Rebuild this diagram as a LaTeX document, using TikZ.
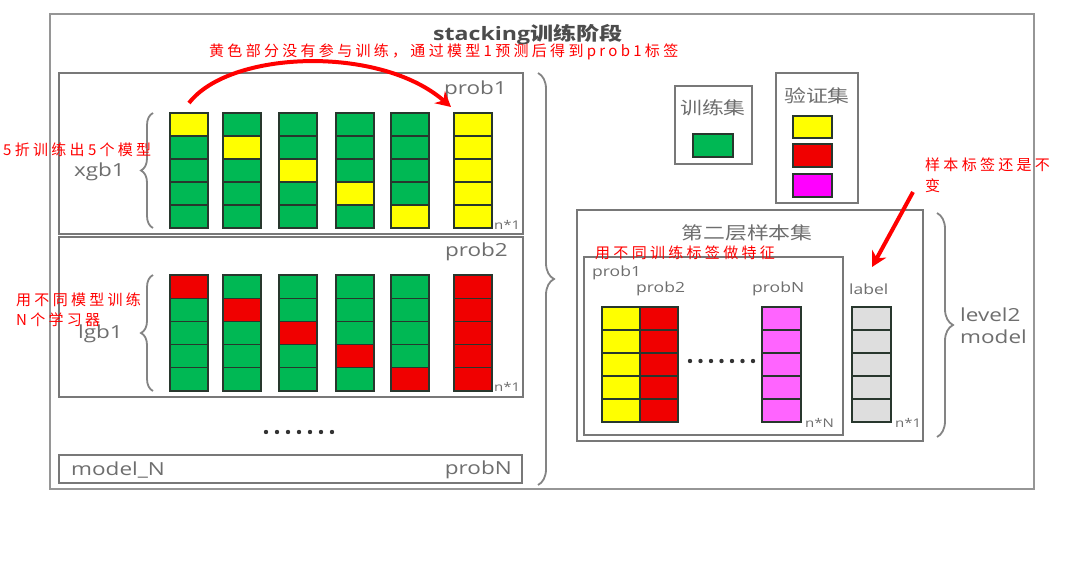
\documentclass[tikz,border=0pt]{standalone}
\usepackage{fontspec}
\setmainfont{Open Sans}
\newfontfamily\lat[FakeStretch=1.25]{Open Sans}
\newfontfamily\cjk[FakeStretch=1.25]{Noto Sans CJK SC}
\newfontfamily\redf[LetterSpace=22]{Noto Sans CJK SC}
\usetikzlibrary{arrows.meta,decorations.pathreplacing}
\definecolor{grn}{RGB}{0,184,84}
\definecolor{yel}{RGB}{255,255,0}
\definecolor{rd}{RGB}{240,0,0}
\definecolor{mag}{RGB}{255,0,255}
\definecolor{pnk}{RGB}{255,100,255}
\definecolor{lgr}{RGB}{222,222,222}
\definecolor{txtg}{RGB}{110,110,110}
\definecolor{framec}{RGB}{150,150,150}
\definecolor{panelc}{RGB}{120,120,120}
\definecolor{cellb}{RGB}{40,55,45}
\begin{document}
\begin{tikzpicture}[x=1pt,y=-1pt,
  outerf/.style={draw=framec, line width=1.5},
  panel/.style={draw=panelc, line width=2.5},
  boxg/.style={draw=panelc, line width=2},
  cell/.style={draw=cellb, line width=1.2},
  lbl/.style={text=txtg, inner sep=0, font=\lat\fontsize{18}{22}\selectfont},
  slbl/.style={text=txtg, inner sep=0, font=\lat\fontsize{14}{16}\selectfont},
  tiny/.style={text=txtg, inner sep=0, font=\lat\fontsize{12}{14}\selectfont},
  clbl/.style={text=txtg, inner sep=0, font=\cjk\fontsize{17.5}{20}\selectfont},
  redtxt/.style={text=red, inner sep=0, font=\redf\fontsize{15}{18}\selectfont},
  brc/.style={draw=txtg!85, line width=1.8, decorate, decoration={brace, amplitude=#1}},
  brc/.default=12,
  redarrow/.style={draw=red, line width=4, -{Stealth[length=15pt,width=16pt]}},
  dot/.style={fill=black!80}
]
\useasboundingbox (0,0) rectangle (1074,562);
\fill[white] (0,0) rectangle (1074,562);
% outer frame and title
\draw[outerf] (50,14) rectangle (1034,489);
\node[text=black!70, inner sep=0, anchor=west, font=\lat\bfseries\fontsize{18.5}{22}\selectfont] (title) at (433,35) {stacking{\cjk\bfseries 训练阶段}};
% left panels
\draw[panel] (59,73) rectangle (523,234);
\draw[panel] (59,237) rectangle (523,397);
\draw[panel] (59,455) rectangle (522,483);
% panel 1 columns
\foreach \x [count=\k] in {170,223,279,336,391}{
  \foreach \r in {1,...,5}{
    \ifnum\r=\k \def\fc{yel}\else\def\fc{grn}\fi
    \draw[cell,fill=\fc] (\x,{113+(\r-1)*23}) rectangle ++(38,23);
  }
}
\foreach \r in {1,...,5} \draw[cell,fill=yel] (454,{113+(\r-1)*23}) rectangle ++(38,23);
% panel 2 columns
\foreach \x [count=\k] in {170,223,279,336,391}{
  \foreach \r in {1,...,5}{
    \ifnum\r=\k \def\fc{rd}\else\def\fc{grn}\fi
    \draw[cell,fill=\fc] (\x,{275+(\r-1)*23.2}) rectangle ++(38,23.2);
  }
}
\foreach \r in {1,...,5} \draw[cell,fill=rd] (454,{275+(\r-1)*23.2}) rectangle ++(38,23.2);
% left labels
\node[lbl, anchor=east] (p1) at (507,90) {prob1};
\node[lbl, anchor=east] (xgb) at (125,172) {xgb1};
\node[tiny, anchor=west] (n1a) at (494,225) {n*1};
\node[lbl, anchor=east] (p2) at (508,252) {prob2};
\node[lbl, anchor=east] (lgb) at (123,334) {lgb1};
\node[tiny, anchor=west] (n1b) at (494,387) {n*1};
\node[lbl, anchor=west] (mn) at (71,470) {model\_N};
\node[lbl, anchor=east] (pN) at (512,470) {probN};
% braces left
\draw[brc=12] (153,228) -- (153,113);
\draw[brc=12] (153,391) -- (153,275);
% dots
\foreach \i in {0,...,6} \fill[dot] ({266+\i*11},432) circle (2.2);
% big brace
\draw[brc=16] (538,73) -- (538,485);
% right top boxes
\draw[boxg] (675,86) rectangle (752,164);
\node[clbl] (trs) at (713,108) {训练集};
\draw[cell,fill=grn] (693,134) rectangle (733,157);
\draw[boxg] (776,73) rectangle (858,203);
\node[clbl] (vs) at (817,96) {验证集};
\draw[cell,fill=yel] (793,116) rectangle (832,138);
\draw[cell,fill=rd] (793,144) rectangle (832,167);
\draw[cell,fill=mag] (793,174) rectangle (832,197);
% second level box
\draw[boxg] (577,210) rectangle (923,441);
\node[clbl] (sl) at (747,233) {第二层样本集};
\draw[boxg] (584,257) rectangle (843,435);
\foreach \r in {1,...,5}{
  \draw[cell,fill=yel] (602,{307+(\r-1)*23}) rectangle ++(38,23);
  \draw[cell,fill=rd] (640,{307+(\r-1)*23}) rectangle ++(38,23);
  \draw[cell,fill=pnk] (762,{307+(\r-1)*23}) rectangle ++(39,23);
  \draw[cell,fill=lgr] (852,{307+(\r-1)*23}) rectangle ++(39,23);
}
\foreach \i in {0,...,6} \fill[dot] ({690+\i*10.5},361) circle (2.2);
\node[slbl, anchor=west] (rp1) at (592,273) {prob1};
\node[slbl, anchor=west] (rp2) at (636,289) {prob2};
\node[slbl, anchor=west] (rpN) at (752,289) {probN};
\node[slbl, anchor=west] (lab) at (849,289) {label};
\node[tiny, anchor=west] (nN) at (805,423) {n*N};
\node[tiny, anchor=west] (n1c) at (895,423) {n*1};
\draw[brc=16] (937,213) -- (937,437);
\node[lbl, anchor=west, align=left, font=\lat\fontsize{18}{22}\selectfont] (l2) at (960,326) {level2\\model};
% red annotations
\coordinate (a1s) at (189,103);
\coordinate (a1e) at (451,107);
\draw[redarrow] (a1s) .. controls (230,50) and (380,45) .. (a1e);
\coordinate (a2s) at (913,192);
\coordinate (a2e) at (872,267);
\draw[redarrow] (a2s) -- (a2e);
\node[redtxt, anchor=west] (t1) at (209,52) {黄色部分没有参与训练，通过模型1预测后得到prob1标签};
\node[redtxt, anchor=west] (t2) at (3,150) {5折训练出5个模型};
\node[redtxt, anchor=west] (t3) at (16,300) {用不同模型训练};
\node[redtxt, anchor=west] (t4) at (16,320) {N个学习器};
\node[redtxt, anchor=west] (t5) at (595,253) {用不同训练标签做特征};
\node[redtxt, anchor=west] (t6) at (925,165) {样本标签还是不};
\node[redtxt, anchor=west] (t7) at (925,186) {变};
\end{tikzpicture}
\end{document}
